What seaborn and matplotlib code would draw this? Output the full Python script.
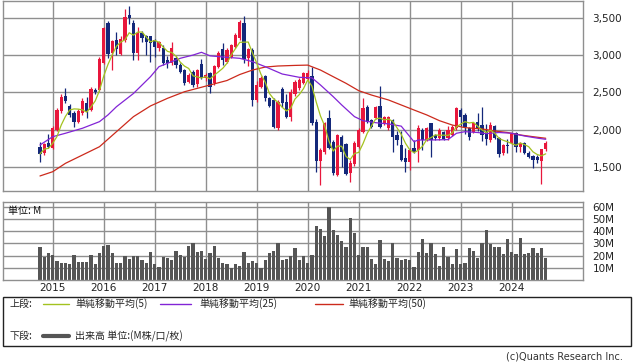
import numpy as np
import pandas as pd
import matplotlib
matplotlib.use("Agg")
import matplotlib.pyplot as plt
from matplotlib.lines import Line2D
from matplotlib.patches import Rectangle
import seaborn as sns

# Monthly candles, Oct 2014 - Sep 2024
start_month = "2014-10"
opens = [1775, 1695, 1821, 1754, 2000, 2253, 2453, 2320, 2222, 2110, 2222, 2356, 2266, 2533, 2533,
         2891, 3425, 3030, 3198, 3010, 3200, 3535, 3425, 3024, 3292, 3255, 3255, 3202, 3091, 3091,
         2935, 2891, 2962, 2870, 2800, 2645, 2778, 2620, 2880, 2690, 2756, 2623, 2845, 3077, 2912,
         2979, 3112, 3225, 3433, 2957, 3068, 2400, 2578, 2720, 2422, 2400, 2022, 2542, 2377, 2177,
         2480, 2556, 2630, 2680, 2720, 2110, 1588, 1700, 2153, 1842, 1397, 1909, 1811, 1420, 1544,
         1775, 1976, 2310, 2133, 2153, 2320, 2079, 2022, 2133, 1932, 1798, 1620, 1575, 1754, 1731,
         2000, 1865, 2088, 1932, 1888, 1976, 1888, 1932, 2022, 2266, 2200, 2022, 1976, 2110, 2065,
         1976, 1865, 2052, 1888, 1687, 1800, 1821, 1955, 1775, 1829, 1695, 1651, 1634, 1588, 1741]
highs = [1842, 1830, 1941, 2050, 2290, 2480, 2556, 2340, 2250, 2280, 2420, 2440, 2570, 2560, 2970,
         3380, 3460, 3200, 3310, 3250, 3610, 3657, 3470, 3380, 3320, 3270, 3260, 3210, 3190, 3130,
         2990, 3180, 2985, 2890, 2820, 2760, 2800, 2820, 2950, 2760, 2780, 2870, 3060, 3160, 3090,
         3150, 3290, 3470, 3523, 3090, 3090, 2660, 2720, 2740, 2440, 2420, 2400, 2570, 2480, 2540,
         2670, 2690, 2770, 2800, 2845, 2150, 1760, 2110, 2266, 1860, 1950, 1930, 1830, 1600, 1850,
         2030, 2422, 2330, 2150, 2320, 2584, 2190, 2190, 2150, 1990, 1990, 1760, 1760, 1860, 2060,
         2020, 2040, 2088, 1950, 2020, 1990, 2050, 2060, 2300, 2290, 2220, 2040, 2110, 2225, 2310,
         2080, 2100, 2070, 1900, 1810, 1880, 1960, 1970, 1840, 1840, 1720, 1660, 1660, 1750, 1850]
lows = [1575, 1660, 1760, 1740, 1980, 2230, 2356, 2177, 2043, 2090, 2200, 2160, 2250, 2480, 2520,
        2880, 2960, 2800, 3000, 3000, 3180, 3420, 2935, 2935, 3180, 3000, 2912, 2980, 3060, 2870,
        2825, 2870, 2830, 2760, 2600, 2630, 2570, 2570, 2680, 2650, 2496, 2600, 2830, 2870, 2900,
        2960, 3090, 3200, 2900, 2860, 2320, 2370, 2560, 2390, 2300, 2020, 2000, 2300, 2160, 2120,
        2450, 2530, 2610, 2660, 2065, 1441, 1263, 1680, 1740, 1400, 1390, 1500, 1400, 1308, 1520,
        1760, 1960, 2090, 2020, 2140, 2020, 2060, 2000, 1708, 1800, 1580, 1441, 1460, 1690, 1570,
        1730, 1850, 1640, 1870, 1870, 1860, 1860, 1920, 2000, 2050, 1950, 1860, 1960, 1990, 1850,
        1800, 1840, 1880, 1640, 1660, 1690, 1810, 1710, 1710, 1680, 1620, 1487, 1560, 1277, 1720]
closes = [1678, 1807, 1775, 2030, 2266, 2444, 2390, 2200, 2102, 2253, 2390, 2243, 2547, 2503, 2946,
          3358, 3020, 3185, 3087, 3220, 3510, 3490, 3024, 3292, 3225, 3180, 3166, 3112, 3180, 2899,
          2891, 3091, 2870, 2780, 2631, 2734, 2600, 2800, 2700, 2730, 2570, 2855, 3024, 2935, 3068,
          3135, 3269, 3447, 2944, 3077, 2400, 2600, 2690, 2422, 2320, 2035, 2377, 2356, 2177, 2510,
          2645, 2667, 2756, 2765, 2088, 1588, 1731, 2088, 1754, 1420, 1932, 1708, 1410, 1553, 1821,
          2000, 2289, 2110, 2043, 2300, 2043, 2168, 2168, 1901, 1865, 1598, 1575, 1731, 1708, 2022,
          1865, 2022, 1865, 1888, 2000, 1874, 2000, 2043, 2289, 2177, 2043, 1909, 2088, 2022, 1932,
          1874, 2065, 1888, 1678, 1798, 1780, 1941, 1775, 1829, 1695, 1634, 1598, 1598, 1741, 1829]

# volume in millions
volume = [27.4, 19.2, 21.9, 20.5, 15.6, 14, 14, 13.2, 20.5, 14.8, 14.8, 14.8, 20.5, 13.2, 21.9,
          27.9, 28.8, 21.9, 14, 14, 19.7, 17.3, 19.7, 19.7, 16.4, 14, 22.7, 13.2, 10.7, 18.9,
          18.1, 16.4, 23.8, 20.5, 18.9, 27.9, 30.1, 23, 23.8, 17.3, 22.2, 27.9, 18.1, 14, 13.2,
          9.9, 13.2, 11.5, 23, 14, 15.6, 14, 9.9, 16.4, 22.2, 23.8, 30.1, 16.4, 17.3, 19.7,
          26.3, 16.4, 19.7, 14, 20.5, 44.4, 41.9, 36.2, 59.7, 41.1, 37, 32, 27.4, 50.7, 38.6,
          20.5, 27.1, 27.1, 17.3, 13.2, 32.9, 17.3, 15.6, 30.1, 18.1, 16.4, 17.3, 16.4, 10.7, 23,
          33.7, 22.2, 30.1, 21.4, 11.5, 27.1, 18.9, 13.2, 25.5, 13.2, 14, 26.3, 23.8, 18.1, 30.1,
          41.1, 29.6, 27.1, 27.1, 21.4, 33.7, 23, 21.4, 34.5, 21.4, 22.2, 26.3, 22.2, 26.3, 18.1]

# 25 and 50 month averages
ma25_months = ["2014-10", "2015-01", "2015-04", "2015-08", "2015-12", "2016-02", "2016-04",
               "2016-08", "2016-12", "2017-02", "2017-04", "2017-07", "2017-10", "2017-12",
               "2018-02", "2018-06", "2018-09", "2018-12", "2019-03", "2019-07", "2019-11",
               "2020-02", "2020-04", "2020-07", "2020-09", "2020-12", "2021-02", "2021-05",
               "2021-08", "2021-11", "2022-02", "2022-03", "2022-06", "2022-10", "2022-12",
               "2023-02", "2023-05", "2023-07", "2023-10", "2024-01", "2024-04", "2024-07", "2024-09"]
ma25_vals = [1798, 1909, 1955, 2022, 2110, 2200, 2310, 2487, 2711, 2845, 2890, 2957, 3000, 3037,
             2990, 2970, 2957, 2912, 2845, 2747, 2703, 2695, 2600, 2444, 2333, 2177, 2123, 2096,
             2080, 2050, 1842, 1865, 1865, 1870, 1955, 1976, 1965, 1950, 1965, 1955, 1918, 1890, 1874]
ma50_months = ["2014-10", "2015-01", "2015-04", "2015-08", "2015-12", "2016-04", "2016-08",
               "2016-12", "2017-04", "2017-08", "2017-12", "2018-02", "2018-06", "2018-09",
               "2018-12", "2019-03", "2019-06", "2019-10", "2020-01", "2020-04", "2020-07",
               "2020-10", "2021-01", "2021-04", "2021-08", "2021-11", "2022-02", "2022-05",
               "2022-08", "2022-11", "2023-02", "2023-06", "2023-09", "2023-12", "2024-03",
               "2024-06", "2024-09"]
ma50_vals = [1384, 1441, 1553, 1664, 1775, 1976, 2177, 2320, 2422, 2510, 2570, 2600, 2660, 2740,
             2800, 2840, 2854, 2862, 2866, 2800, 2711, 2623, 2524, 2466, 2400, 2333, 2266, 2200,
             2123, 2065, 2030, 2013, 1985, 1965, 1932, 1909, 1888]

years = ["2015", "2016", "2017", "2018", "2019", "2020", "2021", "2022", "2023", "2024"]
price_ticks = [1500, 2000, 2500, 3000, 3500]
vol_ticks = [10, 20, 30, 40, 50, 60]

sns.set_style("white")
plt.rcParams["font.family"] = ["DejaVu Sans"]
JP = ["Noto Sans CJK JP", "DejaVu Sans"]

c_up = "#e8173c"
c_down = "#14287a"
c_ma5 = "#a3c21f"
c_ma25 = "#8224d6"
c_ma50 = "#cc2a1c"
c_grid = "#8f8f8f"

start = pd.Period(start_month, "M")


def month_pos(m):
    return (pd.Period(m, "M") - start).n


def year_pos(y):
    return month_pos(y + "-01")


df = pd.DataFrame({"open": opens, "high": highs, "low": lows, "close": closes, "vol": volume})
df["x"] = np.arange(len(df))
df["ma5"] = df["close"].rolling(5, min_periods=1).mean()
ma25 = pd.DataFrame({"x": [month_pos(m) for m in ma25_months], "v": ma25_vals})
ma50 = pd.DataFrame({"x": [month_pos(m) for m in ma50_months], "v": ma50_vals})

W, H = 638, 362
fig = plt.figure(figsize=(W / 100, H / 100), dpi=100)


def box(l, t, r, b):
    return [l / W, 1 - b / H, (r - l) / W, (b - t) / H]


ax1 = fig.add_axes(box(3, 1, 582.7, 190.7))
ax2 = fig.add_axes(box(3, 201.7, 582.7, 280))

xlim = (-8.7, 127.7)
xt = [year_pos(y) for y in years]

for ax in (ax1, ax2):
    ax.set_xlim(*xlim)
    ax.set_xticks(xt)
    ax.grid(True, color=c_grid, lw=1)
    ax.set_axisbelow(True)
    for s in ax.spines.values():
        s.set_color(c_grid)
        s.set_linewidth(1)
    ax.yaxis.tick_right()
    ax.tick_params(length=0, labelsize=7.5, colors="#222222", pad=7)

# candles
up = df["close"] >= df["open"]
colors = np.where(up, c_up, c_down)
body_lo = df[["open", "close"]].min(axis=1)
body_h = (df["close"] - df["open"]).abs().clip(lower=12)
ax1.vlines(df["x"], df["low"], df["high"], colors=colors, lw=0.9, zorder=2)
ax1.bar(df["x"], body_h, bottom=body_lo, width=0.72, color=colors, lw=0, zorder=3)

sns.lineplot(data=ma50, x="x", y="v", ax=ax1, color=c_ma50, lw=0.9, zorder=4)
sns.lineplot(data=ma25, x="x", y="v", ax=ax1, color=c_ma25, lw=0.9, zorder=4)
sns.lineplot(data=df, x="x", y="ma5", ax=ax1, color=c_ma5, lw=0.9, zorder=5)

ax1.set_ylim(1187, 3723)
ax1.set_yticks(price_ticks)
ax1.set_yticklabels([f"{v:,}" for v in price_ticks])
ax1.set_xticklabels([])
ax1.set_xlabel("")
ax1.set_ylabel("")

# volume
sns.barplot(data=df, x="x", y="vol", ax=ax2, native_scale=True, color="#555555",
            saturation=1, width=0.72, errorbar=None, lw=0)
ax2.set_xlim(*xlim)
ax2.set_ylim(0, 64.3)
ax2.set_yticks(vol_ticks)
ax2.set_yticklabels([f"{v}M" for v in vol_ticks])
ax2.set_xticks(xt)
ax2.set_xticklabels(years)
ax2.tick_params(axis="x", pad=2)
ax2.tick_params(axis="y", pad=7)
ax2.set_xlabel("")
ax2.set_ylabel("")
ax2.text(8 / W, 1 - 210.5 / H, "単位: M", transform=fig.transFigure, fontsize=7.2,
         family=JP, va="center", ha="left", color="#111111")

# legend box
fig.add_artist(Rectangle((3 / W, 1 - 346 / H), 627.7 / W, 49.5 / H, transform=fig.transFigure,
                         fill=False, ec="#222222", lw=1))


def fx(px):
    return px / W


def fy(py):
    return 1 - py / H


row1, row2 = 303.5, 336
fig.text(fx(10), fy(row1), "上段:", fontsize=7.2, family=JP, va="center")
fig.text(fx(10), fy(row2), "下段:", fontsize=7.2, family=JP, va="center")
items = [(43, 69, 75, c_ma5, "単純移動平均(5)"),
         (160, 191, 199, c_ma25, "単純移動平均(25)"),
         (315, 343, 348, c_ma50, "単純移動平均(50)")]
for x0, x1, xt0, col, lab in items:
    fig.add_artist(Line2D([fx(x0), fx(x1)], [fy(row1), fy(row1)], color=col, lw=1,
                          transform=fig.transFigure))
    fig.text(fx(xt0), fy(row1), lab, fontsize=7.2, family=JP, va="center")
fig.add_artist(Line2D([fx(43), fx(69)], [fy(row2), fy(row2)], color="#555555", lw=3,
                      transform=fig.transFigure))
fig.text(fx(75), fy(row2), "出来高 単位:(M株/口/枚)", fontsize=7.2, family=JP, va="center")

fig.text(fx(623), fy(356.5), "(c)Quants Research Inc.", fontsize=7, ha="right", va="center",
         color="#333333")

fig.savefig("out.png", dpi=100)
